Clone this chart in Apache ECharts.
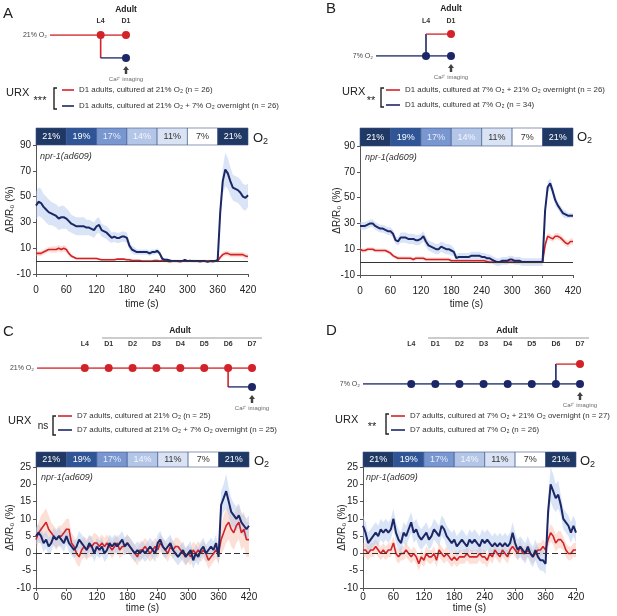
<!DOCTYPE html>
<html><head><meta charset="utf-8">
<script src="https://cdn.jsdelivr.net/npm/echarts@6/dist/echarts.min.js"></script>
<style>html,body{margin:0;padding:0;background:#fff}#c{width:617px;height:616px}</style>
</head><body><div id="c"></div>
<script>
// ---------- DATA ----------
const time = [0,5,10,15,20,25,30,35,40,45,50,55,60,65,70,75,80,85,90,95,100,105,110,115,120,125,130,135,140,145,150,155,160,165,170,175,180,185,190,195,200,205,210,215,220,225,230,235,240,245,250,255,260,265,270,275,280,285,290,295,300,305,310,315,320,325,330,335,340,345,350,355,360,365,370,375,380,385,390,395,400,405,410,415,420];

// Panel A
const aRed = [6,6,6,7,8,9,9,9,9,10,9,10, 9,6,4,3,2,2,2,2,2,2,2,2, 2,1.5,1,1,1,1,1,1,1.5,1.5,1.5,1.5, 1,1,0.5,0.5,0.5,0.5,0,0,0,0,0,0.5, 0.5,0,0.5,0,0,-0.5,0,0,0,-0.5,0,0, 0,0.5,0,0,0,-0.5,0,0,0,0,-0.5,0, 0,3,5,6,6,5,5,5,5,5,5,4, 3.5];
const aRedSem = [2,2,2,2,2,2,2.5,2.5,2.5,2.5,2.5,2.5, 2.5,2,1.5,1,1,1,1,1,1,1,1,1, 1,1,1,1,1,1,1,1,1,1,1,1, 1,1,1,1,1,1,1,1,1,1,1,1, 1,1,1,1,1,1,1,1,1,1,1,1, 1,1,1,1,1,1,1,1,1,1,1,1, 1,1.5,2,2,2,2,2,2,2,2,2,2, 2];
const aBlue = [43,46,45,42,40,38,37,36,35,33,34,34, 33,31,29,28,27,27,27,27,26,26,25,24, 27,28,24,23,22,20,18,19,18,18,19,19, 18,12,9,8,7,7,7,7,7,6,7,7, 8,6,2,1,1,0.5,0,0,0,0,0,1, 0,0,0,0,0,0,0,0,-0.5,0,0,0, 1,38,62,71,68,62,57,56,55,53,50,49, 51];
const aBlueSem = [11,11,11,10,10,10,9,9,9,9,9,9, 8,8,7,7,7,7,7,7,6,6,6,6, 6,6,5,5,5,5,4,4,4,4,4,4, 4,3,3,3,2,2,2,2,2,2,2,2, 2,2,1.5,1,1,1,1,1,1,1,1,1, 1,1,1,1,1,1,1,1,1,1,1,1, 1,6,10,13,12,11,10,10,10,10,10,10, 9];

// Panel B
const bRed = [10,9,9,10,10,10,9,9,9,9,9,8, 7,5,4,3,3,3,3,3,3,2,3,3, 3,3,2,2,2,2,2,2,2,2,2,2, 1,1,1,1,1,1,1,1,1,1,1,1, 1,1,0.5,0,0,0,0,0,0.5,0,0,0, 0,0,0,0,0,0,0,0,0,0,0,0, 0,13,20,19,18,20,20,19,17,15,14,16, 16];
const bRedSem = [1.5,1.5,1.5,1.5,1.5,1.5,1.5,1.5,1.5,1.5,1.5,1.5, 1.5,1.5,1.5,1.5,1.5,1.5,1.5,1.5,1.5,1.5,1.5,1.5, 1.5,1.5,1.5,1.5,1.5,1.5,1.5,1.5,1.5,1.5,1.5,1.5, 1.5,1.5,1.5,1.5,1.5,1.5,1.5,1.5,1.5,1.5,1.5,1.5, 1.5,1.5,1.5,1.5,1.5,1.5,1.5,1.5,1.5,1.5,1.5,1.5, 1.5,1.5,1.5,1.5,1.5,1.5,1.5,1.5,1.5,1.5,1.5,1.5, 1.5,2,2.5,2.5,2.5,2.5,2.5,2.5,2.5,2.5,2.5,2.5, 2.5];
const bBlue = [28,28,28,29,30,30,28,27,26,26,25,24, 24,22,17,16,19,19,19,18,18,18,17,17, 18,20,16,13,12,11,10,10,12,11,10,10, 9,8,3,4,4,4,4,4,5,5,5,5, 4,4,3,3,2,1,0,0,1,1,1,2, 2,1,1,1,0,0,0,0,0,0,0,0, 0,40,58,61,55,48,44,41,38,37,36,36, 36];
const bBlueSem = [3,3,3,3,3,3,3,3,3,3,3,3, 3,3,3,3,4,4,4,4,4,4,4,4, 4,4,4,4,4,4,4,4,4,4,4,4, 4,3,3,3,3,3,3,3,3,3,3,3, 3,3,3,3,3,3,3,3,3,3,3,3, 3,3,3,3,3,3,3,3,3,3,3,3, 3,4,4,4,4,4,3,3,3,3,2,2, 2];

// Panel C
const cRed = [4,6,7,8,9,7,6,5,4,5,5,6, 7,7,3,2,0,-1,1,2,1,2,2,3, 3,2,3,2,3,2,1,2,3,1,2,2, 3,2,1,0,-1,1,1,2,1,0,1,2, 1,3,2,1,0,2,1,2,2,1,0,-1, 0,-1,1,0,1,0,1,0,-2,-1,0,1, 0,4,6,8,9,7,6,8,9,6,7,4, 4];
const cRedSem = [3,3,4,4,4,4,3,3,3,3,3,3, 3,3,3,3,3,3,3,3,3,3,3,3, 2.5,2.5,2.5,2.5,2.5,2.5,2.5,2.5,2.5,2.5,2.5,2.5, 2.5,2.5,2.5,2.5,2.5,2.5,2.5,2.5,2.5,2.5,2.5,2.5, 2.5,2.5,2.5,2.5,2.5,2.5,2.5,2.5,2.5,2.5,2.5,2.5, 2.5,2.5,2.5,2.5,2.5,2.5,2.5,2.5,2.5,2.5,2.5,2.5, 3,4,5,5,5,5,5,5,5,5,5,5, 5];
const cBlue = [5,6,5,3,4,2,3,5,4,5,4,3, 5,3,2,1,2,4,3,2,1,3,2,0, 2,1,2,0,1,3,2,3,2,3,4,2, 3,2,1,0,1,0,1,0,1,2,1,0, 3,4,2,1,2,3,1,0,-1,0,1,-1, 0,1,-2,0,-1,1,2,0,1,2,1,3, -1,14,16,18,15,12,11,10,11,9,8,7, 8];
const cBlueSem = [2.5,2.5,2.5,2.5,2.5,2.5,2.5,2.5,2.5,2.5,2.5,2.5, 2.5,2.5,2.5,2.5,2.5,2.5,2.5,2.5,2.5,2.5,2.5,2.5, 2.5,2.5,2.5,2.5,2.5,2.5,2.5,2.5,2.5,2.5,2.5,2.5, 2.5,2.5,2.5,2.5,2.5,2.5,2.5,2.5,2.5,2.5,2.5,2.5, 2.5,2.5,2.5,2.5,2.5,2.5,2.5,2.5,2.5,2.5,2.5,2.5, 2.5,2.5,2.5,2.5,2.5,2.5,2.5,2.5,2.5,2.5,2.5,2.5, 2.5,4,4,5,4,4,3.5,3.5,3.5,3,3,3, 3];

// Panel D
const dRed = [1,1,0,1,1,2,1,0,1,0,1,1, 3,0,-1,0,0,1,0,-1,0,-1,-3,-1, -2,0,-1,-1,0,-2,1,0,-1,0,-1,-2, -1,-2,-1,-1,-1,0,-1,-1,-1,-1,0,-1, -1,-2,0,-1,1,0,-1,1,0,-1,1,2, 1,0,2,0,0,1,0,-1,0,1,1,2, 1,4,6,5,3,4,4,3,1,0,0,1, 1];
const dRedSem = [2,2,2,2,2,2,2,2,2,2,2,2, 2,2,2,2,2,2,2,2,2,2,2,2, 2,2,2,2,2,2,2,2,2,2,2,2, 2,2,2,2,2,2,2,2,2,2,2,2, 2,2,2,2,2,2,2,2,2,2,2,2, 2,2,2,2,2,2,2,2,2,2,2,2, 2,2.5,2.5,2.5,2.5,2.5,2.5,2,2,2,2,2, 2];
const dBlue = [8,6,3,4,5,6,5,7,6,7,6,7, 10,6,4,3,6,5,7,9,6,7,5,4, 5,6,4,5,7,6,5,8,7,5,4,3, 4,2,3,4,3,2,4,3,4,3,2,4, 3,4,3,2,3,2,3,2,3,2,3,6, 3,1,2,1,0,2,0,-1,1,-1,-2,-2, -3,12,20,18,16,17,14,10,9,8,6,8, 6];
const dBlueSem = [3,3,3,3,3,3,3,3,3,3,3,3, 3,3,3,3,3,3,3,3,3,3,3,3, 3,3,3,3,3,3,3,3,3,3,3,3, 3,3,3,3,3,3,3,3,3,3,3,3, 3,3,3,3,3,3,3,3,3,3,3,3, 3,3,3,3,3,3,3,3,3,3,3,3, 3,4,5,5,4,4,3,3,3,3,3,3, 3];

// O2 protocol strip
const o2Bounds = [0,60,120,180,240,300,360,420];
const o2Levels = ['21%','19%','17%','14%','11%','7%','21%'];

// Schematics: [stage index, O2 level]
const stagesAB = ['', '', 'L4', 'D1'];
const stagesCD = ['', '', 'L4', 'D1', 'D2', 'D3', 'D4', 'D5', 'D6', 'D7'];
const mainA = [[0,21],[2,21],[3,21]], stemA = [[2,21],[2,7]], branchA = [[2,7],[3,7]], imgA = [[3,7]];
const mainB = [[0,7],[2,7],[3,7]], stemB = [[2,7],[2,21]], branchB = [[2,21],[3,21]], imgB = [[3,7]];
const mainC = [[0,21],[2,21],[3,21],[4,21],[5,21],[6,21],[7,21],[8,21],[9,21]], stemC = [[8,21],[8,7]], branchC = [[8,7],[9,7]], imgC = [[9,7]];
const mainD = [[0,7],[2,7],[3,7],[4,7],[5,7],[6,7],[7,7],[8,7],[9,7]], stemD = [[8,7],[8,21]], branchD = [[8,21],[9,21]], imgD = [[9,7]];

// Legend names
const namesA = ['D1 adults, cultured at 21% O₂ (n = 26)', 'D1 adults, cultured at 21% O₂ + 7% O₂ overnight (n = 26)'];
const namesB = ['D1 adults, cultured at 7% O₂ + 21% O₂ overnight (n = 26)', 'D1 adults, cultured at 7% O₂ (n = 34)'];
const namesC = ['D7 adults, cultured at 21% O₂ (n = 25)', 'D7 adults, cultured at 21% O₂ + 7% O₂ overnight (n = 25)'];
const namesD = ['D7 adults, cultured at 7% O₂ + 21% O₂ overnight (n = 27)', 'D7 adults, cultured at 7% O₂ (n = 26)'];

// ---------- STYLE ----------
const RED = '#d2232a', NAVY = '#1c2767';
const RBAND = 'rgba(248,170,145,0.36)', BBAND = 'rgba(175,198,238,0.48)';
const FONT = 'Arial, "Liberation Sans", sans-serif';
const o2Fill = {'21%':'#1f3864','19%':'#2f5597','17%':'#7896d0','14%':'#b4c6e7','11%':'#dae3f3','7%':'#ffffff'};
const o2Txt = {'21%':'#ffffff','19%':'#ffffff','17%':'#e6ecf8','14%':'#f3f6fc','11%':'#333333','7%':'#333333'};

const grid = [], xAxis = [], yAxis = [], series = [], legend = [], graphic = [];
function addGrid(g, x, y) {
  g.outerBoundsMode = 'none';
  grid.push(g);
  const i = grid.length - 1;
  xAxis.push(Object.assign({gridIndex: i}, x));
  yAxis.push(Object.assign({gridIndex: i}, y));
  return i;
}
function txt(x, y, text, o) {
  graphic.push({type: 'text', x: x, y: y, silent: true, style: Object.assign({text: text, fill: '#222', font: '10px ' + FONT, align: 'left', verticalAlign: 'middle'}, o || {})});
}
function pline(pts, color, w) {
  graphic.push({type: 'polyline', silent: true, shape: {points: pts}, style: {stroke: color, lineWidth: w, fill: null}});
}

function plot(p) {
  // O2 strip
  const gs = addGrid({left: p.left, top: p.stripTop, width: p.width, height: p.stripH},
    {type: 'value', min: 0, max: 420, show: false}, {type: 'value', min: 0, max: 1, show: false});
  series.push({
    type: 'custom', xAxisIndex: gs, yAxisIndex: gs, silent: true, encode: {x: [0, 1]},
    data: o2Levels.map((l, i) => [o2Bounds[i], o2Bounds[i + 1]]),
    renderItem: function (params, api) {
      const a = api.coord([api.value(0), 1]), b = api.coord([api.value(1), 0]);
      const lv = o2Levels[params.dataIndex];
      return {type: 'group', children: [
        {type: 'rect', shape: {x: a[0], y: a[1], width: b[0] - a[0], height: b[1] - a[1]}, style: {fill: o2Fill[lv], stroke: '#3d5388', lineWidth: 0.6}},
        {type: 'text', x: (a[0] + b[0]) / 2, y: (a[1] + b[1]) / 2 + 0.5, style: {text: lv, fill: o2Txt[lv], font: '9px ' + FONT, align: 'center', verticalAlign: 'middle'}}
      ]};
    }
  });
  // main plot
  const gm = addGrid({left: p.left, top: p.top, width: p.width, height: p.height},
    {type: 'value', min: 0, max: 420, interval: 60,
     axisLine: {show: true, onZero: false, lineStyle: {color: '#555', width: 1}},
     axisTick: {show: true, inside: false, length: 3, lineStyle: {color: '#555'}},
     splitLine: {show: false}, axisLabel: {color: '#222', fontSize: 10, margin: p.xMargin, fontFamily: FONT},
     name: 'time (s)', nameLocation: 'middle', nameGap: p.xNameGap, nameMoveOverlap: false,
     nameTextStyle: {color: '#222', fontSize: 10, fontFamily: FONT}},
    {type: 'value', min: p.ymin, max: p.ymax, interval: p.yint,
     axisLine: {show: true, lineStyle: {color: '#555', width: 1}},
     axisTick: {show: true, inside: false, length: 3, lineStyle: {color: '#555'}},
     splitLine: {show: false}, axisLabel: {color: '#222', fontSize: 10, margin: 5, fontFamily: FONT},
     name: 'ΔR/R₀ (%)', nameLocation: 'middle', nameRotate: 90, nameGap: p.yNameGap, nameMoveOverlap: false,
     nameTextStyle: {color: '#222', fontSize: 10, fontFamily: FONT}});
  // SEM bands: one polygon per trace, built through the axes
  function band(vals, sem, color) {
    series.push({type: 'custom', xAxisIndex: gm, yAxisIndex: gm, silent: true, z: 1,
      encode: {x: 0, y: [1, 2]},
      data: time.map((t, i) => [t, vals[i] - sem[i], vals[i] + sem[i]]),
      renderItem: function (params, api) {
        if (params.dataIndex !== 0) return null;
        const up = [], dn = [];
        for (let i = 0; i < time.length; i++) {
          up.push(api.coord([time[i], vals[i] + sem[i]]));
          dn.push(api.coord([time[i], vals[i] - sem[i]]));
        }
        return {type: 'polygon', shape: {points: up.concat(dn.reverse())}, style: {fill: color, stroke: null}};
      }});
  }
  band(p.red, p.redSem, RBAND);
  band(p.blue, p.blueSem, BBAND);
  series.push({type: 'line', name: p.names[0], xAxisIndex: gm, yAxisIndex: gm, symbol: 'none', z: 3,
    lineStyle: {color: RED, width: 1.6}, itemStyle: {color: RED}, data: time.map((t, i) => [t, p.red[i]]),
    markLine: {silent: true, symbol: 'none', label: {show: false}, lineStyle: {color: '#333', width: 1, type: p.zeroType}, data: [{yAxis: 0}]}});
  series.push({type: 'line', name: p.names[1], xAxisIndex: gm, yAxisIndex: gm, symbol: 'none', z: 4,
    lineStyle: {color: NAVY, width: 2}, itemStyle: {color: NAVY}, data: time.map((t, i) => [t, p.blue[i]])});
  legend.push({left: p.leg[0], top: p.leg[1], orient: 'vertical', itemWidth: p.leg[2], itemHeight: 1.6, itemGap: p.leg[3],
    icon: 'rect', selectedMode: false, padding: 0, data: p.names,
    textStyle: {fontSize: 7.9, color: '#333', fontFamily: FONT}});
}

function schematic(s) {
  const gi = addGrid({left: s.left, top: s.top, width: s.width, height: s.height},
    {type: 'category', data: s.stages, boundaryGap: false, position: 'top', axisLine: {show: false}, axisTick: {show: false},
     splitLine: {show: false}, axisLabel: {show: true, interval: 0, margin: s.margin, fontSize: 7, fontWeight: 'bold', color: '#333', fontFamily: FONT}},
    {type: 'value', min: 7, max: 21, show: false});
  const lab = {show: true, position: 'left', distance: 3, fontSize: 7, color: '#444', fontFamily: FONT};
  series.push({type: 'line', xAxisIndex: gi, yAxisIndex: gi, silent: true, z: 5, symbol: 'circle',
    lineStyle: {color: s.mainColor, width: 1.6}, itemStyle: {color: s.mainColor},
    data: s.main.map((pt, i) => i === 0 ? {value: pt, symbolSize: 0, label: Object.assign({formatter: s.mainLabel}, lab)} : {value: pt, symbolSize: 8})});
  series.push({type: 'line', xAxisIndex: gi, yAxisIndex: gi, silent: true, z: 5, symbol: 'none',
    lineStyle: {color: s.mainColor, width: 1.6},
    data: s.stem.map((pt, i) => i === 1 ? {value: pt, label: Object.assign({formatter: s.stemLabel}, lab)} : {value: pt})});
  series.push({type: 'line', xAxisIndex: gi, yAxisIndex: gi, silent: true, z: 5, symbol: 'circle',
    lineStyle: {color: s.branchColor, width: 1.6}, itemStyle: {color: s.branchColor},
    data: s.branch.map((pt, i) => ({value: pt, symbolSize: i === s.branch.length - 1 ? 8 : 0}))});
  series.push({type: 'scatter', xAxisIndex: gi, yAxisIndex: gi, silent: true, z: 5,
    symbol: 'path://M5,0 L10,5 L7,5 L7,10 L3,10 L3,5 L0,5 Z', symbolSize: [6, 8], symbolOffset: [0, 12],
    itemStyle: {color: '#111'},
    label: {show: true, position: 'bottom', distance: 2, formatter: 'Ca²⁺ imaging', fontSize: 6, color: '#444', fontFamily: FONT},
    data: s.img});
}

// ---------- PANELS ----------
plot({left: 36, width: 212, top: 145, height: 129, stripTop: 128, stripH: 17, ymin: -10, ymax: 90, yint: 20, zeroType: 'solid',
  xMargin: 11, xNameGap: 25, yNameGap: 21, red: aRed, redSem: aRedSem, blue: aBlue, blueSem: aBlueSem, names: namesA, leg: [62, 86, 12, 8]});
plot({left: 360, width: 213, top: 146, height: 129, stripTop: 128, stripH: 18, ymin: -10, ymax: 90, yint: 20, zeroType: 'solid',
  xMargin: 11, xNameGap: 24, yNameGap: 18, red: bRed, redSem: bRedSem, blue: bBlue, blueSem: bBlueSem, names: namesB, leg: [386, 86, 14, 7]});
plot({left: 36, width: 213, top: 467, height: 121, stripTop: 452, stripH: 15, ymin: -10, ymax: 25, yint: 5, zeroType: [6, 3],
  xMargin: 4, xNameGap: 15, yNameGap: 21, red: cRed, redSem: cRedSem, blue: cBlue, blueSem: cBlueSem, names: namesC, leg: [58, 412, 14, 6]});
plot({left: 363, width: 213, top: 467, height: 121, stripTop: 452, stripH: 15, ymin: -10, ymax: 25, yint: 5, zeroType: [6, 3],
  xMargin: 4, xNameGap: 15, yNameGap: 16, red: dRed, redSem: dRedSem, blue: dBlue, blueSem: dBlueSem, names: namesD, leg: [391, 412, 14, 6]});

schematic({left: 50, top: 35, width: 76, height: 23, margin: 10, stages: stagesAB, main: mainA, stem: stemA, branch: branchA, img: imgA,
  mainColor: RED, branchColor: NAVY, mainLabel: '21% O₂', stemLabel: '7% O₂'});
schematic({left: 376, top: 34, width: 75, height: 22, margin: 9, stages: stagesAB, main: mainB, stem: stemB, branch: branchB, img: imgB,
  mainColor: NAVY, branchColor: RED, mainLabel: '7% O₂', stemLabel: '21% O₂'});
schematic({left: 37, top: 368, width: 215, height: 19, margin: 20, stages: stagesCD, main: mainC, stem: stemC, branch: branchC, img: imgC,
  mainColor: RED, branchColor: NAVY, mainLabel: '21% O₂', stemLabel: '7% O₂'});
schematic({left: 363, top: 364, width: 217, height: 20, margin: 16, stages: stagesCD, main: mainD, stem: stemD, branch: branchD, img: imgD,
  mainColor: NAVY, branchColor: RED, mainLabel: '7% O₂', stemLabel: '21% O₂'});

// ---------- ANNOTATIONS ----------
txt(3, 14, 'A', {font: '15px ' + FONT});
txt(326, 9, 'B', {font: '15px ' + FONT});
txt(3, 332, 'C', {font: '15px ' + FONT});
txt(326, 331, 'D', {font: '15px ' + FONT});
txt(126, 10, 'Adult', {font: 'bold 8.5px ' + FONT, align: 'center'});
txt(451, 9, 'Adult', {font: 'bold 8.5px ' + FONT, align: 'center'});
txt(180, 331, 'Adult', {font: 'bold 8.5px ' + FONT, align: 'center'});
txt(507, 331, 'Adult', {font: 'bold 8.5px ' + FONT, align: 'center'});
pline([[102, 338], [262, 338]], '#999', 1);
pline([[428, 338], [589, 338]], '#999', 1);

txt(6, 93, 'URX', {font: '11px ' + FONT});
txt(342, 92, 'URX', {font: '11px ' + FONT});
txt(8, 421, 'URX', {font: '11px ' + FONT});
txt(335, 420, 'URX', {font: '11px ' + FONT});
txt(40, 101, '***', {font: '11px ' + FONT, align: 'center'});
txt(371, 101, '**', {font: '11px ' + FONT, align: 'center'});
txt(43, 426, 'ns', {font: '10px ' + FONT, align: 'center'});
txt(372, 427, '**', {font: '11px ' + FONT, align: 'center'});
pline([[57, 88], [54, 88], [54, 109], [57, 109]], '#222', 1.4);
pline([[384, 88], [381, 88], [381, 107], [384, 107]], '#222', 1.4);
pline([[56, 416], [53, 416], [53, 435], [56, 435]], '#222', 1.4);
pline([[389, 414], [386, 414], [386, 434], [389, 434]], '#222', 1.4);

txt(40, 156, 'npr-1(ad609)', {font: 'italic 9px ' + FONT, fill: '#333'});
txt(365, 157, 'npr-1(ad609)', {font: 'italic 9px ' + FONT, fill: '#333'});
txt(41, 477, 'npr-1(ad609)', {font: 'italic 9px ' + FONT, fill: '#333'});
txt(366, 477, 'npr-1(ad609)', {font: 'italic 9px ' + FONT, fill: '#333'});
const o2Rich = {o: {fontSize: 13, fontFamily: FONT, fill: '#222'}, s: {fontSize: 9, fontFamily: FONT, fill: '#222', padding: [7, 0, 0, 0]}};
txt(253, 138, '{o|O}{s|2}', {rich: o2Rich, font: '13px ' + FONT});
txt(577, 137, '{o|O}{s|2}', {rich: o2Rich, font: '13px ' + FONT});
txt(254, 461, '{o|O}{s|2}', {rich: o2Rich, font: '13px ' + FONT});
txt(580, 461, '{o|O}{s|2}', {rich: o2Rich, font: '13px ' + FONT});

const chart = echarts.init(document.getElementById('c'), null, {renderer: 'canvas'});
chart.setOption({animation: false, backgroundColor: '#fff', textStyle: {fontFamily: FONT},
  grid: grid, xAxis: xAxis, yAxis: yAxis, series: series, legend: legend, graphic: graphic});
</script>
</body></html>
